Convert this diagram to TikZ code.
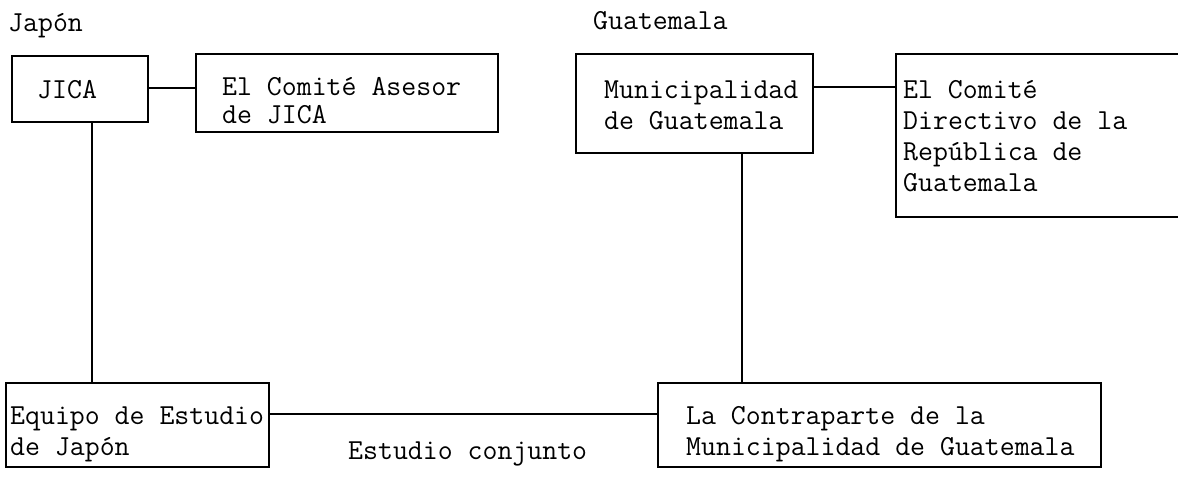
\documentclass[tikz,border=0pt]{standalone}
\usepackage{fontspec}
\begin{document}
\begin{tikzpicture}[x=1pt,y=-1pt,
  every node/.style={font=\ttfamily\fontsize{29}{31}\selectfont, text=black},
  box/.style={draw, line width=1.6pt, anchor=north west, inner sep=0pt},
  txt/.style={anchor=base west, inner sep=0pt, align=left},
  wire/.style={line width=1.6pt}]
\useasboundingbox (0,0) rectangle (1178,482);
% labels
\node[txt] (lj) at (8,31) {Japón};
\node[txt] (lg) at (593,29) {Guatemala};
% boxes
\node[box, minimum width=136pt, minimum height=66pt] (jica) at (11,55) {};
\node[box, minimum width=302pt, minimum height=78pt] (ases) at (195,53) {};
\node[box, minimum width=237pt, minimum height=99pt] (mun) at (575,53) {};
\node[box, minimum width=300pt, minimum height=163pt] (dir) at (895,53) {};
\node[box, minimum width=263pt, minimum height=84pt] (equ) at (5,382) {};
\node[box, minimum width=443pt, minimum height=84pt] (con) at (657,382) {};
% texts (base = baseline of last line)
\node[txt] (tjica) at (37,98) {JICA};
\node[txt, font=\ttfamily\fontsize{29}{28}\selectfont] (tases) at (222,123) {El Comité Asesor\\de JICA};
\node[txt] (tmun) at (604,129) {Municipalidad\\de Guatemala};
\node[txt] (tdir) at (903,191) {El Comité\\Directivo de la\\República de\\Guatemala};
\node[txt] (tequ) at (10,455) {Equipo de Estudio\\de Japón};
\node[txt] (tcon) at (686,455) {La Contraparte de la\\Municipalidad de Guatemala};
\node[txt] (ec) at (348,459) {Estudio conjunto};
% connectors
\coordinate (j1) at ([yshift=-33pt]jica.north east);
\draw[wire] (j1) -- (j1 -| ases.west);
\coordinate (m1) at ([yshift=-34pt]mun.north east);
\draw[wire] (m1) -- (m1 -| dir.west);
\coordinate (j2) at ([xshift=81pt]jica.south west);
\draw[wire] (j2) -- (j2 |- equ.north);
\coordinate (m2) at ([xshift=167pt]mun.south west);
\draw[wire] (m2) -- (m2 |- con.north);
\coordinate (e1) at ([yshift=-32pt]equ.north east);
\draw[wire] (e1) -- (e1 -| con.west);
\end{tikzpicture}
\end{document}
